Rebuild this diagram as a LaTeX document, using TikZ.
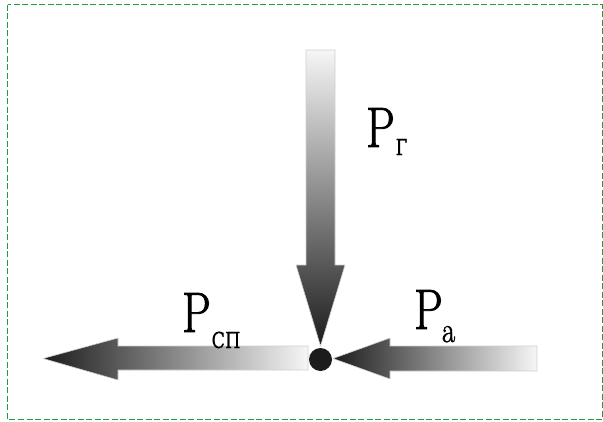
\documentclass[tikz,border=0pt]{standalone}
\usepackage{fontspec}
\usepackage{tikz}
\usetikzlibrary{calc, positioning}
\newfontfamily\pfont[FakeBold=1.6]{Latin Modern Roman}
\newfontfamily\cyrfont[FakeBold=0.6]{DejaVu Serif}
\definecolor{FrameGreen}{HTML}{1E9E3E}
\definecolor{EdgeGray}{HTML}{D0D0D0}
\definecolor{LightEnd}{HTML}{F6F6F6}
\definecolor{DarkEnd}{HTML}{1C1C1C}
% P with a lowered index, squeezed a little
\newcommand{\forcelbl}[4]{\scalebox{0.8}[1]{P\kern#4\raisebox{#1}{#2 #3}}}

\begin{document}
\begin{tikzpicture}[x=1pt, y=-1pt,
        frame/.style={draw=FrameGreen, line width=1pt, dash pattern=on 6pt off 2.5pt},
        vforce/.style={draw=EdgeGray, line width=0.6pt, top color=LightEnd, bottom color=DarkEnd},
        hforce/.style={draw=EdgeGray, line width=0.6pt, left color=DarkEnd, right color=LightEnd},
        lbl/.style={anchor=base west, inner sep=0pt, font=\pfont\fontsize{57}{60}\selectfont}]

    \useasboundingbox (0,0) rectangle (603,421);
    \draw[frame] (7.5,4.5) rectangle (602,419);

    % block arrows
    \path[vforce] (306,50) -- (335,50) -- (335,265) -- (345,265) -- (320.5,346)
                  -- (296,265) -- (306,265) -- cycle;
    \path[hforce] (308,346) -- (308,370) -- (118,370) -- (118,380) -- (43,358.5)
                  -- (118,338) -- (118,346) -- cycle;
    \path[hforce] (537,346) -- (537,371) -- (390,371) -- (390,379) -- (333,358.5)
                  -- (390,338) -- (390,346) -- cycle;

    \node[circle, fill=DarkEnd, minimum width=23pt, minimum height=22pt, inner sep=0pt] (o) at (320.5,359.5) {};

    % labels
    \node[lbl] (pg)  at (366,147) {\forcelbl{-8pt}{\cyrfont\fontsize{22}{22}\selectfont}{Г}{-6pt}};
    \node[lbl] (psp) at (182,332) {\forcelbl{-16pt}{\cyrfont\fontsize{22}{22}\selectfont}{СП}{-6pt}};
    \node[lbl] (pa)  at (414,329) {\forcelbl{-13pt}{\fontsize{36}{36}\selectfont}{a}{-12pt}};
\end{tikzpicture}
\end{document}
